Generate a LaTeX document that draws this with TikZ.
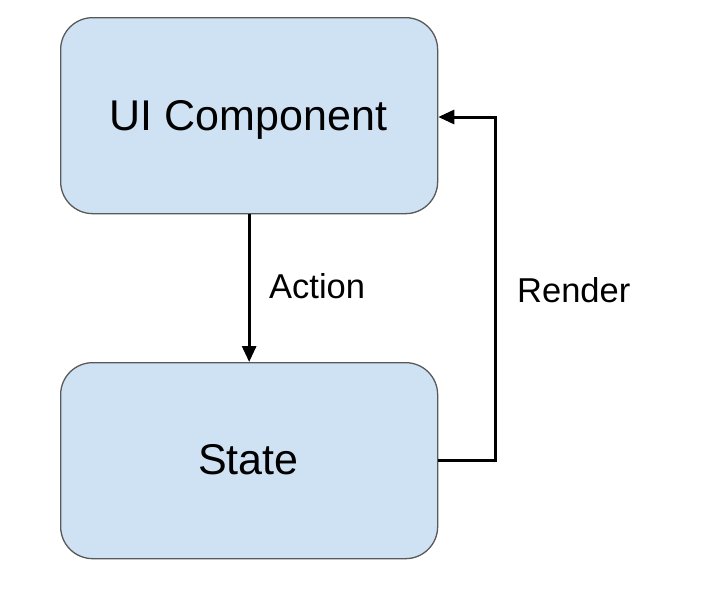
\documentclass[tikz,border=0pt]{standalone}
\usepackage{fontspec}
\setmainfont{Liberation Sans}
\usetikzlibrary{arrows.meta}
\definecolor{boxfill}{HTML}{CFE2F3}
\definecolor{boxline}{HTML}{595959}
\begin{document}
\begin{tikzpicture}[x=1pt,y=-1pt,
  box/.style={draw=boxline, line width=1.3pt, fill=boxfill, rounded corners=32pt,
    minimum width=377pt, minimum height=196pt, inner sep=0pt, anchor=north west},
  boxtext/.style={font=\fontsize{43}{48}\selectfont, inner sep=0pt, text height=31pt, text depth=0pt},
  lbl/.style={font=\fontsize{34.5}{40}\selectfont, inner sep=0pt},
  conn/.style={line width=3pt, -{Triangle[length=16pt,width=14pt]}}]
\useasboundingbox (0,0) rectangle (712,592);
\node[box] (ui) at (60,17) {};
\node[boxtext] (uitext) at (248.5,115) {UI Component};
\node[box] (st) at (60,362) {};
\node[boxtext] (sttext) at (248.5,459) {State};
\draw[conn] (ui.south) -- (st.north);
\coordinate (c1) at (495,460);
\coordinate (c2) at (495,117);
\draw[conn] (st.east |- c1) -- (c1) -- (c2) -- (ui.east |- c2);
\node[lbl, anchor=west] (action) at (269,286) {Action};
\node[lbl, anchor=west] (render) at (517,290) {Render};
\end{tikzpicture}
\end{document}
